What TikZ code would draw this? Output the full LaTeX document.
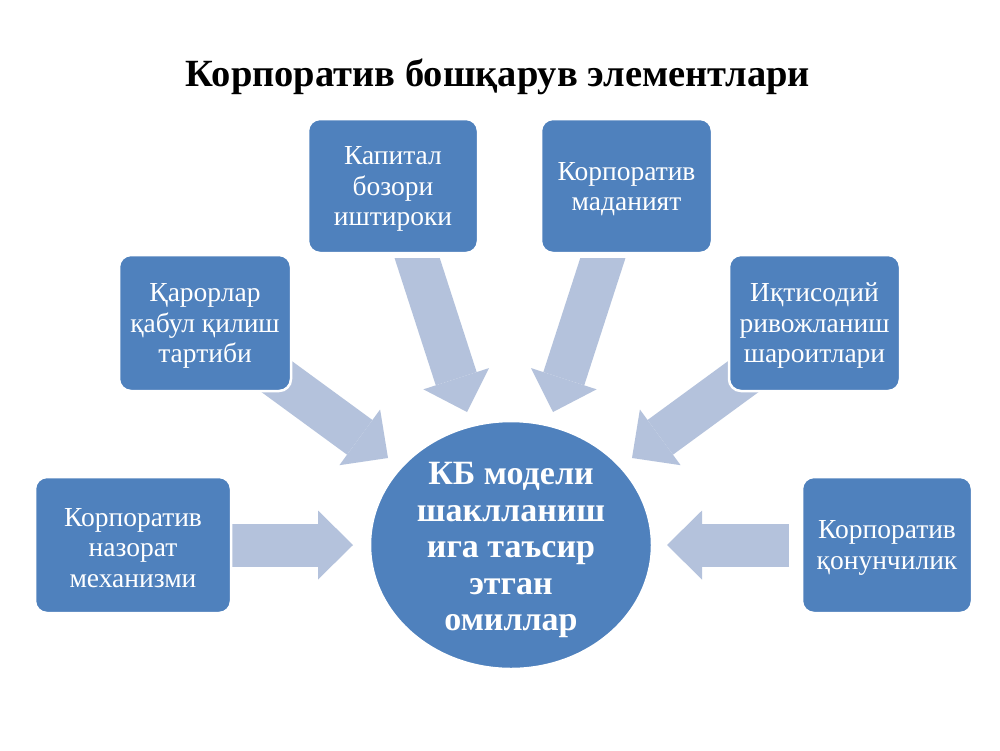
\documentclass[tikz,border=0pt]{standalone}
\usepackage{fontspec}
\setmainfont{Liberation Serif}
\usetikzlibrary{arrows.meta,shapes.geometric}
\definecolor{boxc}{RGB}{79,129,189}
\definecolor{arrowc}{RGB}{180,194,220}
\begin{document}
\begin{tikzpicture}[x=1pt,y=-1pt,
  box/.style={rectangle, rounded corners=12pt, fill=boxc, draw=white, line width=2.5pt, inner sep=0pt},
  boxtext/.style={text=white, align=center, font=\fontsize{27.5}{30.5}\selectfont, inner sep=0pt, yshift=-3pt},
  hub/.style={ellipse, fill=boxc, draw=white, line width=2.5pt, inner sep=0pt,
    minimum width=282pt, minimum height=248pt},
  hubtext/.style={text=white, align=center, font=\bfseries\fontsize{34}{36.5}\selectfont,
    inner sep=0pt, yshift=-5pt},
  blockarrow/.style={draw=arrowc, line width=43pt, line cap=butt,
    -{Triangle[length=35pt,width=69pt,line width=0pt]}},
  titlestyle/.style={font=\bfseries\fontsize{38.5}{42}\selectfont, text=black, inner sep=0pt}
]
\useasboundingbox (0,0) rectangle (1000,750);
\fill[white] (0,0) rectangle (1000,750);

% arrow end points
\coordinate (a1s) at (231,545);  \coordinate (a1e) at (353,545);
\coordinate (a6s) at (789,545);  \coordinate (a6e) at (667,545);
\coordinate (a2s) at (267,369.5); \coordinate (a2e) at (388,458);
\coordinate (a5s) at (753,369.5); \coordinate (a5e) at (632,458);
\coordinate (a3s) at (411.3,240); \coordinate (a3e) at (467,412);
\coordinate (a4s) at (608.7,240); \coordinate (a4e) at (553,412);

\draw[blockarrow] (a1s) -- (a1e);
\draw[blockarrow] (a6s) -- (a6e);
\draw[blockarrow] (a2s) -- (a2e);
\draw[blockarrow] (a5s) -- (a5e);
\begin{scope}
  \clip (0,258) rectangle (1000,750);
  \draw[blockarrow] (a3s) -- (a3e);
  \draw[blockarrow] (a4s) -- (a4e);
\end{scope}

\node[titlestyle, anchor=base] (title) at (498,86) {Корпоратив бошқарув элементлари};

\node[box, minimum width=196pt, minimum height=136pt,
  label={[boxtext]center:{Корпоратив\\назорат\\механизми}}] (b1) at (133,545) {};
\node[box, minimum width=172pt, minimum height=136pt,
  label={[boxtext]center:{Қарорлар\\қабул қилиш\\тартиби}}] (b2) at (205,323) {};
\node[box, minimum width=170pt, minimum height=134pt,
  label={[boxtext]center:{Капитал\\бозори\\иштироки}}] (b3) at (393,186) {};
\node[box, minimum width=171pt, minimum height=134pt,
  label={[boxtext]center:{Корпоратив\\маданият}}] (b4) at (626.5,186) {};
\node[box, minimum width=171pt, minimum height=136pt,
  label={[boxtext]center:{Иқтисодий\\ривожланиш\\шароитлари}}] (b5) at (814.5,323) {};
\node[box, minimum width=170pt, minimum height=136pt,
  label={[boxtext]center:{Корпоратив\\қонунчилик}}] (b6) at (887,545) {};

\node[hub, label={[hubtext]center:{КБ модели\\шаклланиш\\ига таъсир\\этган\\омиллар}}]
  (hub) at (511,545) {};
\end{tikzpicture}
\end{document}
